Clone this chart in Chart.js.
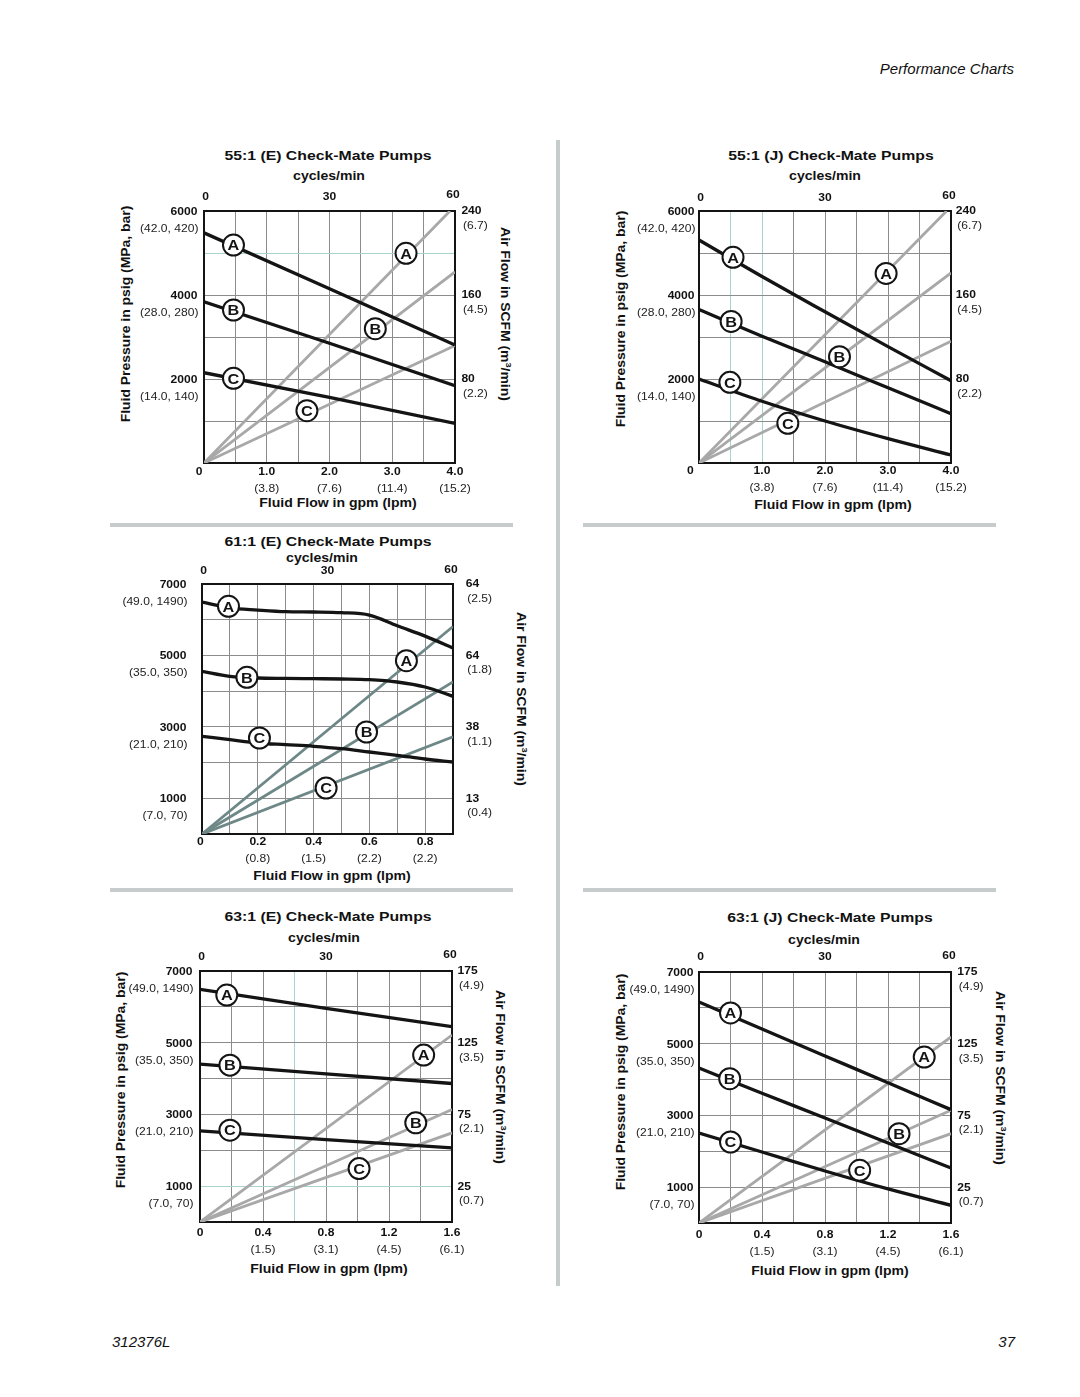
<!DOCTYPE html>
<html><head><meta charset="utf-8">
<script src="https://cdn.jsdelivr.net/npm/chart.js@4.4.1/dist/chart.umd.min.js"></script>
<style>
html,body{margin:0;padding:0;background:#fff;}
body{width:1080px;height:1397px;position:relative;overflow:hidden;font-family:'Liberation Sans',Arial,Helvetica,sans-serif;color:#111;}
.t{position:absolute;white-space:nowrap;line-height:1;}
.c{transform:translate(-50%,-50%) scaleX(1.17);}
.title{font-weight:bold;font-size:13.5px;}
.b12{font-weight:bold;font-size:12px;}
.rl{transform:translate(-50%,-50%) rotate(-90deg) scaleX(1.16);}
.rr{transform:translate(-50%,-50%) rotate(90deg) scaleX(1.16);}
.sep{position:absolute;background:#c6cccc;}
canvas{position:absolute;}
sup{font-size:8px;vertical-align:5px;line-height:0;}
.it{font-style:italic;font-size:15px;transform:translateY(-50%);}
</style></head>
<body>
<div class="t it" style="right:66px;top:68px;">Performance Charts</div>
<div class="t it" style="left:112px;top:1341px;">312376L</div>
<div class="t it" style="right:65px;top:1341px;">37</div>

<div class="sep" style="left:556px;top:140px;width:4px;height:1146px;"></div>
<div class="sep" style="left:110px;top:523px;width:403px;height:4px;"></div>
<div class="sep" style="left:583px;top:523px;width:413px;height:4px;"></div>
<div class="sep" style="left:110px;top:888px;width:403px;height:4px;"></div>
<div class="sep" style="left:583px;top:888px;width:413px;height:4px;"></div>

<!-- chart 1 texts -->
<div class="t c title" style="left:328px;top:156px;">55:1 (E) Check-Mate Pumps</div>
<div class="t c b12" style="left:329px;top:176px;">cycles/min</div>
<div class="t c b12" style="left:338px;top:503px;">Fluid Flow in gpm (lpm)</div>
<div class="t rl b12" style="left:126px;top:314px;">Fluid Pressure in psig (MPa, bar)</div>
<div class="t rr b12" style="left:505px;top:314px;">Air Flow in SCFM (m<sup>3</sup>/min)</div>
<!-- chart 2 texts -->
<div class="t c title" style="left:831px;top:156px;">55:1 (J) Check-Mate Pumps</div>
<div class="t c b12" style="left:825px;top:176px;">cycles/min</div>
<div class="t c b12" style="left:833px;top:505px;">Fluid Flow in gpm (lpm)</div>
<div class="t rl b12" style="left:621px;top:319px;">Fluid Pressure in psig (MPa, bar)</div>
<!-- chart 3 texts -->
<div class="t c title" style="left:328px;top:542px;">61:1 (E) Check-Mate Pumps</div>
<div class="t c b12" style="left:322px;top:558px;">cycles/min</div>
<div class="t c b12" style="left:332px;top:876px;">Fluid Flow in gpm (lpm)</div>
<div class="t rr b12" style="left:521px;top:699px;">Air Flow in SCFM (m<sup>3</sup>/min)</div>
<!-- chart 4 texts -->
<div class="t c title" style="left:328px;top:917px;">63:1 (E) Check-Mate Pumps</div>
<div class="t c b12" style="left:324px;top:938px;">cycles/min</div>
<div class="t c b12" style="left:329px;top:1269px;">Fluid Flow in gpm (lpm)</div>
<div class="t rl b12" style="left:121px;top:1080px;">Fluid Pressure in psig (MPa, bar)</div>
<div class="t rr b12" style="left:500px;top:1077px;">Air Flow in SCFM (m<sup>3</sup>/min)</div>
<!-- chart 5 texts -->
<div class="t c title" style="left:830px;top:918px;">63:1 (J) Check-Mate Pumps</div>
<div class="t c b12" style="left:824px;top:940px;">cycles/min</div>
<div class="t c b12" style="left:830px;top:1271px;">Fluid Flow in gpm (lpm)</div>
<div class="t rl b12" style="left:621px;top:1082px;">Fluid Pressure in psig (MPa, bar)</div>
<div class="t rr b12" style="left:1000px;top:1078px;">Air Flow in SCFM (m<sup>3</sup>/min)</div>

<script>
// ---------------- DATA ----------------
// shared
const cycleTicks = [0, 30, 60];

// 55:1 (E)
const e55Gpm = [0, 2, 4];
const e55PressA = [5480, 4150, 2810];
const e55PressB = [3840, 2850, 1840];
const e55PressC = [2150, 1560, 945];
const e55AirGpmA = [0, 3.92];
const e55AirA = [0, 240];
const e55AirGpm = [0, 4];
const e55AirB = [0, 182];
const e55AirC = [0, 112];

// 55:1 (J)
const j55Gpm = [0, 1, 2, 3, 4];
const j55PressA = [5310, 4440, 3600, 2770, 1960];
const j55PressB = [3655, 3020, 2410, 1790, 1174];
const j55PressC = [2000, 1470, 1000, 580, 190];
const j55AirGpmA = [0, 3.93];
const j55AirA = [0, 240];
const j55AirGpm = [0, 4];
const j55AirB = [0, 181];
const j55AirC = [0, 116];

// 61:1 (E)
const e61Gpm = [0, 0.1, 0.2, 0.3, 0.4, 0.5, 0.6, 0.7, 0.8, 0.9];
const e61PressA = [6496, 6330, 6270, 6225, 6216, 6197, 6130, 5830, 5540, 5210];
const e61PressB = [4555, 4415, 4368, 4358, 4349, 4340, 4321, 4256, 4116, 3855];
const e61PressC = [2735, 2641, 2548, 2501, 2455, 2389, 2296, 2203, 2100, 2016];
const e61AirGpm = [0, 0.9];
const e61AirA = [0, 58.1];
const e61AirB = [0, 42.6];
const e61AirC = [0, 27.2];

// 63:1 (E)
const e63Gpm = [0, 0.8, 1.6];
const e63PressA = [6488, 5958, 5446];
const e63PressB = [4403, 4130, 3863];
const e63PressC = [2541, 2300, 2067];
const e63AirGpm = [0, 1.6];
const e63AirA = [0, 130.3];
const e63AirB = [0, 78.4];
const e63AirC = [0, 62.1];

// 63:1 (J)
const j63Gpm = [0, 0.4, 0.8, 1.2, 1.6];
const j63PressA = [6163, 5410, 4660, 3910, 3161];
const j63PressB = [4323, 3620, 2930, 2230, 1534];
const j63PressC = [2510, 1980, 1450, 950, 493];
const j63AirGpm = [0, 1.6];
const j63AirA = [0, 129.7];
const j63AirB = [0, 78.6];
const j63AirC = [0, 62.3];

// tick labels
const psi55Ticks = [6000, 4000, 2000];
const psi55Sub = ['(42.0, 420)', '(28.0, 280)', '(14.0, 140)'];
const air55Ticks = [240, 160, 80];
const air55Sub = ['(6.7)', '(4.5)', '(2.2)'];
const gpm55Ticks = [0, 1, 2, 3, 4];
const gpm55Labels = ['0', '1.0', '2.0', '3.0', '4.0'];
const lpm55Sub = ['', '(3.8)', '(7.6)', '(11.4)', '(15.2)'];

const psi7kTicks = [7000, 5000, 3000, 1000];
const psi7kSub = ['(49.0, 1490)', '(35.0, 350)', '(21.0, 210)', '(7.0, 70)'];

const air61Ticks = [70, 50, 30, 10];
const air61Labels = ['64', '64', '38', '13'];
const air61Sub = ['(2.5)', '(1.8)', '(1.1)', '(0.4)'];
const gpm61Ticks = [0, 0.2, 0.4, 0.6, 0.8];
const gpm61Labels = ['0', '0.2', '0.4', '0.6', '0.8'];
const lpm61Sub = ['', '(0.8)', '(1.5)', '(2.2)', '(2.2)'];

const air63Ticks = [175, 125, 75, 25];
const air63Sub = ['(4.9)', '(3.5)', '(2.1)', '(0.7)'];
const gpm63Ticks = [0, 0.4, 0.8, 1.2, 1.6];
const gpm63Labels = ['0', '0.4', '0.8', '1.2', '1.6'];
const lpm63Sub = ['', '(1.5)', '(3.1)', '(4.5)', '(6.1)'];

// ---------------- RENDER ----------------
const FONT = '"Liberation Sans", Arial, Helvetica, sans-serif';
const BOLD = 'bold 10.5px ' + FONT;
const REG = '10.5px ' + FONT;
const SX = 1.15;

function txt(ctx, s, x, y, align, font, color, sx) {
  ctx.save();
  ctx.translate(x, y);
  ctx.scale(sx || SX, 1);
  ctx.font = font;
  ctx.fillStyle = color || '#111';
  ctx.textAlign = align;
  ctx.textBaseline = 'middle';
  ctx.fillText(s, 0, 0);
  ctx.restore();
}

function pts(xs, ys) { return xs.map((x, i) => ({ x: x, y: ys[i] })); }

function build(spec) {
  const PADL = 100, PADT = 50, PADR = 80, PADB = 50;
  const cv = document.createElement('canvas');
  cv.width = spec.plot.w + PADL + PADR;
  cv.height = spec.plot.h + PADT + PADB;
  cv.style.left = (spec.plot.l - PADL) + 'px';
  cv.style.top = (spec.plot.t - PADT) + 'px';
  cv.style.width = cv.width + 'px';
  cv.style.height = cv.height + 'px';
  document.body.appendChild(cv);

  const datasets = [];
  spec.black.forEach(s => datasets.push({
    data: pts(s[0], s[1]), xAxisID: 'x', yAxisID: 'y', showLine: true,
    borderColor: '#141414', borderWidth: 3.3, pointRadius: 0, fill: false,
    cubicInterpolationMode: spec.curved ? 'monotone' : 'default', tension: 0,
    borderCapStyle: 'butt', order: 0
  }));
  spec.gray.forEach(s => datasets.push({
    data: pts(s[0], s[1]), xAxisID: 'x', yAxisID: 'yR', showLine: true,
    borderColor: spec.grayColor, borderWidth: 2.8, pointRadius: 0, fill: false,
    tension: 0, order: 1
  }));

  const near = (v, arr) => (arr || []).some(t => Math.abs(v - t) < 1e-6);
  const gridCol = (max, teal) => (c) => {
    const v = c.tick ? c.tick.value : null;
    if (v === null) return '#8c8c8c';
    if (Math.abs(v) < 1e-6 || Math.abs(v - max) < 1e-6) return 'rgba(0,0,0,0)';
    return near(v, teal) ? '#a9d3ce' : '#8c8c8c';
  };
  const border = { display: true, color: '#141414', width: 2 };

  const textPlugin = {
    id: 'pageText',
    afterDatasetsDraw(chart) {
      const ctx = chart.ctx, sc = chart.scales;
      spec.circles.forEach(c => {
        const px = sc.x.getPixelForValue(c[0]);
        const py = sc.y.getPixelForValue(c[1]);
        ctx.save();
        ctx.beginPath();
        ctx.arc(px, py, 10.5, 0, Math.PI * 2);
        ctx.fillStyle = '#fff';
        ctx.fill();
        ctx.lineWidth = 2;
        ctx.strokeStyle = '#141414';
        ctx.stroke();
        ctx.restore();
        txt(ctx, c[2], px, py + 1, 'center', 'bold 15.5px ' + FONT, '#141414', 1.05);
      });
    },
    afterDraw(chart) {
      const ctx = chart.ctx, sc = chart.scales, a = chart.chartArea;
      const o = spec.off;
      // left
      spec.left.vals.forEach((v, i) => {
        const y = sc.y.getPixelForValue(v);
        txt(ctx, String(v), a.left - o.lg, y + 1, 'right', BOLD);
        txt(ctx, spec.left.sub[i], a.left - o.lg + 1, y + 18, 'right', REG, '#222');
      });
      // right
      spec.right.vals.forEach((v, i) => {
        const y = sc.yR.getPixelForValue(v);
        const lab = spec.right.labels ? spec.right.labels[i] : String(v);
        txt(ctx, lab, a.right + o.rg, y + 0.5, 'left', BOLD);
        txt(ctx, spec.right.sub[i], a.right + o.rg + 1.5, y + 15, 'left', REG, '#222');
      });
      // bottom
      spec.bottom.vals.forEach((v, i) => {
        let x = sc.x.getPixelForValue(v);
        if (v === 0) x += o.zx;
        txt(ctx, spec.bottom.labels[i], x, a.bottom + o.bd, 'center', BOLD);
        if (spec.bottom.sub[i]) txt(ctx, spec.bottom.sub[i], x, a.bottom + o.bd + 16.8, 'center', REG, '#222');
      });
      // top (cycles/min)
      cycleTicks.forEach(v => {
        let x = sc.xTop.getPixelForValue(v);
        let dy = 0;
        if (v === 0) x += 1.5;
        if (v === 60) { x -= 2; dy = -1.5; }
        txt(ctx, String(v), x, a.top + o.td + dy, 'center', BOLD);
      });
    }
  };

  new Chart(cv, {
    type: 'scatter',
    data: { datasets: datasets },
    options: {
      responsive: false, animation: false, devicePixelRatio: 1,
      layout: { padding: { left: PADL, top: PADT, right: PADR, bottom: PADB } },
      plugins: { legend: { display: false }, tooltip: { enabled: false } },
      scales: {
        x: {
          type: 'linear', position: 'bottom', min: 0, max: spec.xMax,
          afterFit: s => { s.height = 0; },
          ticks: { display: false, stepSize: spec.xStep },
          grid: { color: gridCol(spec.xMax, spec.tealX), lineWidth: 1, drawTicks: false },
          border: border
        },
        xTop: {
          type: 'linear', position: 'top', min: 0, max: 60,
          afterFit: s => { s.height = 0; },
          ticks: { display: false }, grid: { display: false, drawTicks: false }, border: border
        },
        y: {
          type: 'linear', position: 'left', min: 0, max: spec.yMax,
          afterFit: s => { s.width = 0; },
          ticks: { display: false, stepSize: 1000 },
          grid: { color: gridCol(spec.yMax, spec.tealY), lineWidth: 1, drawTicks: false },
          border: border
        },
        yR: {
          type: 'linear', position: 'right', min: 0, max: spec.rMax,
          afterFit: s => { s.width = 0; },
          ticks: { display: false }, grid: { display: false, drawTicks: false }, border: border
        }
      }
    },
    plugins: [textPlugin]
  });
}

const GRAY = '#a8a8a8';

build({
  plot: { l: 204, t: 211, w: 251, h: 252 },
  xMax: 4, xStep: 0.5, yMax: 6000, rMax: 240, tealY: [5000],
  black: [[e55Gpm, e55PressA], [e55Gpm, e55PressB], [e55Gpm, e55PressC]],
  gray: [[e55AirGpmA, e55AirA], [e55AirGpm, e55AirB], [e55AirGpm, e55AirC]],
  grayColor: GRAY,
  circles: [[0.47, 5190, 'A'], [0.47, 3643, 'B'], [0.47, 2016, 'C'], [3.22, 4992, 'A'], [2.73, 3198, 'B'], [1.64, 1246, 'C']],
  left: { vals: psi55Ticks, sub: psi55Sub },
  right: { vals: air55Ticks, sub: air55Sub },
  bottom: { vals: gpm55Ticks, labels: gpm55Labels, sub: lpm55Sub },
  off: { lg: 6.6, rg: 6.4, bd: 9, zx: -5, td: -14 }
});

build({
  plot: { l: 699, t: 211, w: 252, h: 252 },
  xMax: 4, xStep: 0.5, yMax: 6000, rMax: 240, tealX: [0.5, 1.0],
  black: [[j55Gpm, j55PressA], [j55Gpm, j55PressB], [j55Gpm, j55PressC]],
  gray: [[j55AirGpmA, j55AirA], [j55AirGpm, j55AirB], [j55AirGpm, j55AirC]],
  grayColor: GRAY, curved: true,
  circles: [[0.54, 4898, 'A'], [0.51, 3370, 'B'], [0.49, 1920, 'C'], [2.97, 4513, 'A'], [2.23, 2530, 'B'], [1.41, 945, 'C']],
  left: { vals: psi55Ticks, sub: psi55Sub },
  right: { vals: air55Ticks, sub: air55Sub },
  bottom: { vals: gpm55Ticks, labels: gpm55Labels, sub: lpm55Sub },
  off: { lg: 4.5, rg: 4.7, bd: 8.5, zx: -8.6, td: -13.3 }
});

build({
  plot: { l: 202, t: 584, w: 251, h: 250 },
  xMax: 0.9, xStep: 0.1, yMax: 7000, rMax: 70,
  black: [[e61Gpm, e61PressA], [e61Gpm, e61PressB], [e61Gpm, e61PressC]],
  gray: [[e61AirGpm, e61AirA], [e61AirGpm, e61AirB], [e61AirGpm, e61AirC]],
  grayColor: '#6e8787', curved: true,
  circles: [[0.095, 6375, 'A'], [0.161, 4387, 'B'], [0.206, 2688, 'C'], [0.733, 4853, 'A'], [0.59, 2856, 'B'], [0.445, 1288, 'C']],
  left: { vals: psi7kTicks, sub: psi7kSub },
  right: { vals: air61Ticks, labels: air61Labels, sub: air61Sub },
  bottom: { vals: gpm61Ticks, labels: gpm61Labels, sub: lpm61Sub },
  off: { lg: 15.5, rg: 12.7, bd: 8, zx: -1.7, td: -12.5 }
});

build({
  plot: { l: 200, t: 971, w: 252, h: 251 },
  xMax: 1.6, xStep: 0.2, yMax: 7000, rMax: 175, tealX: [0.6], tealY: [1000],
  black: [[e63Gpm, e63PressA], [e63Gpm, e63PressB], [e63Gpm, e63PressC]],
  gray: [[e63AirGpm, e63AirA], [e63AirGpm, e63AirB], [e63AirGpm, e63AirC]],
  grayColor: GRAY,
  circles: [[0.17, 6330, 'A'], [0.19, 4375, 'B'], [0.19, 2560, 'C'], [1.42, 4654, 'A'], [1.37, 2765, 'B'], [1.01, 1489, 'C']],
  left: { vals: psi7kTicks, sub: psi7kSub },
  right: { vals: air63Ticks, sub: air63Sub },
  bottom: { vals: gpm63Ticks, labels: gpm63Labels, sub: lpm63Sub },
  off: { lg: 7.5, rg: 5.6, bd: 11.5, zx: 0, td: -14.3 }
});

build({
  plot: { l: 699, t: 972, w: 252, h: 251 },
  xMax: 1.6, xStep: 0.2, yMax: 7000, rMax: 175,
  black: [[j63Gpm, j63PressA], [j63Gpm, j63PressB], [j63Gpm, j63PressC]],
  gray: [[j63AirGpm, j63AirA], [j63AirGpm, j63AirB], [j63AirGpm, j63AirC]],
  grayColor: GRAY, curved: true,
  circles: [[0.2, 5857, 'A'], [0.195, 4025, 'B'], [0.2, 2259, 'C'], [1.43, 4629, 'A'], [1.27, 2491, 'B'], [1.02, 1469, 'C']],
  left: { vals: psi7kTicks, sub: psi7kSub },
  right: { vals: air63Ticks, sub: air63Sub },
  bottom: { vals: gpm63Ticks, labels: gpm63Labels, sub: lpm63Sub },
  off: { lg: 5.5, rg: 6.3, bd: 12.3, zx: 0, td: -14.4 }
});
</script>
</body></html>
